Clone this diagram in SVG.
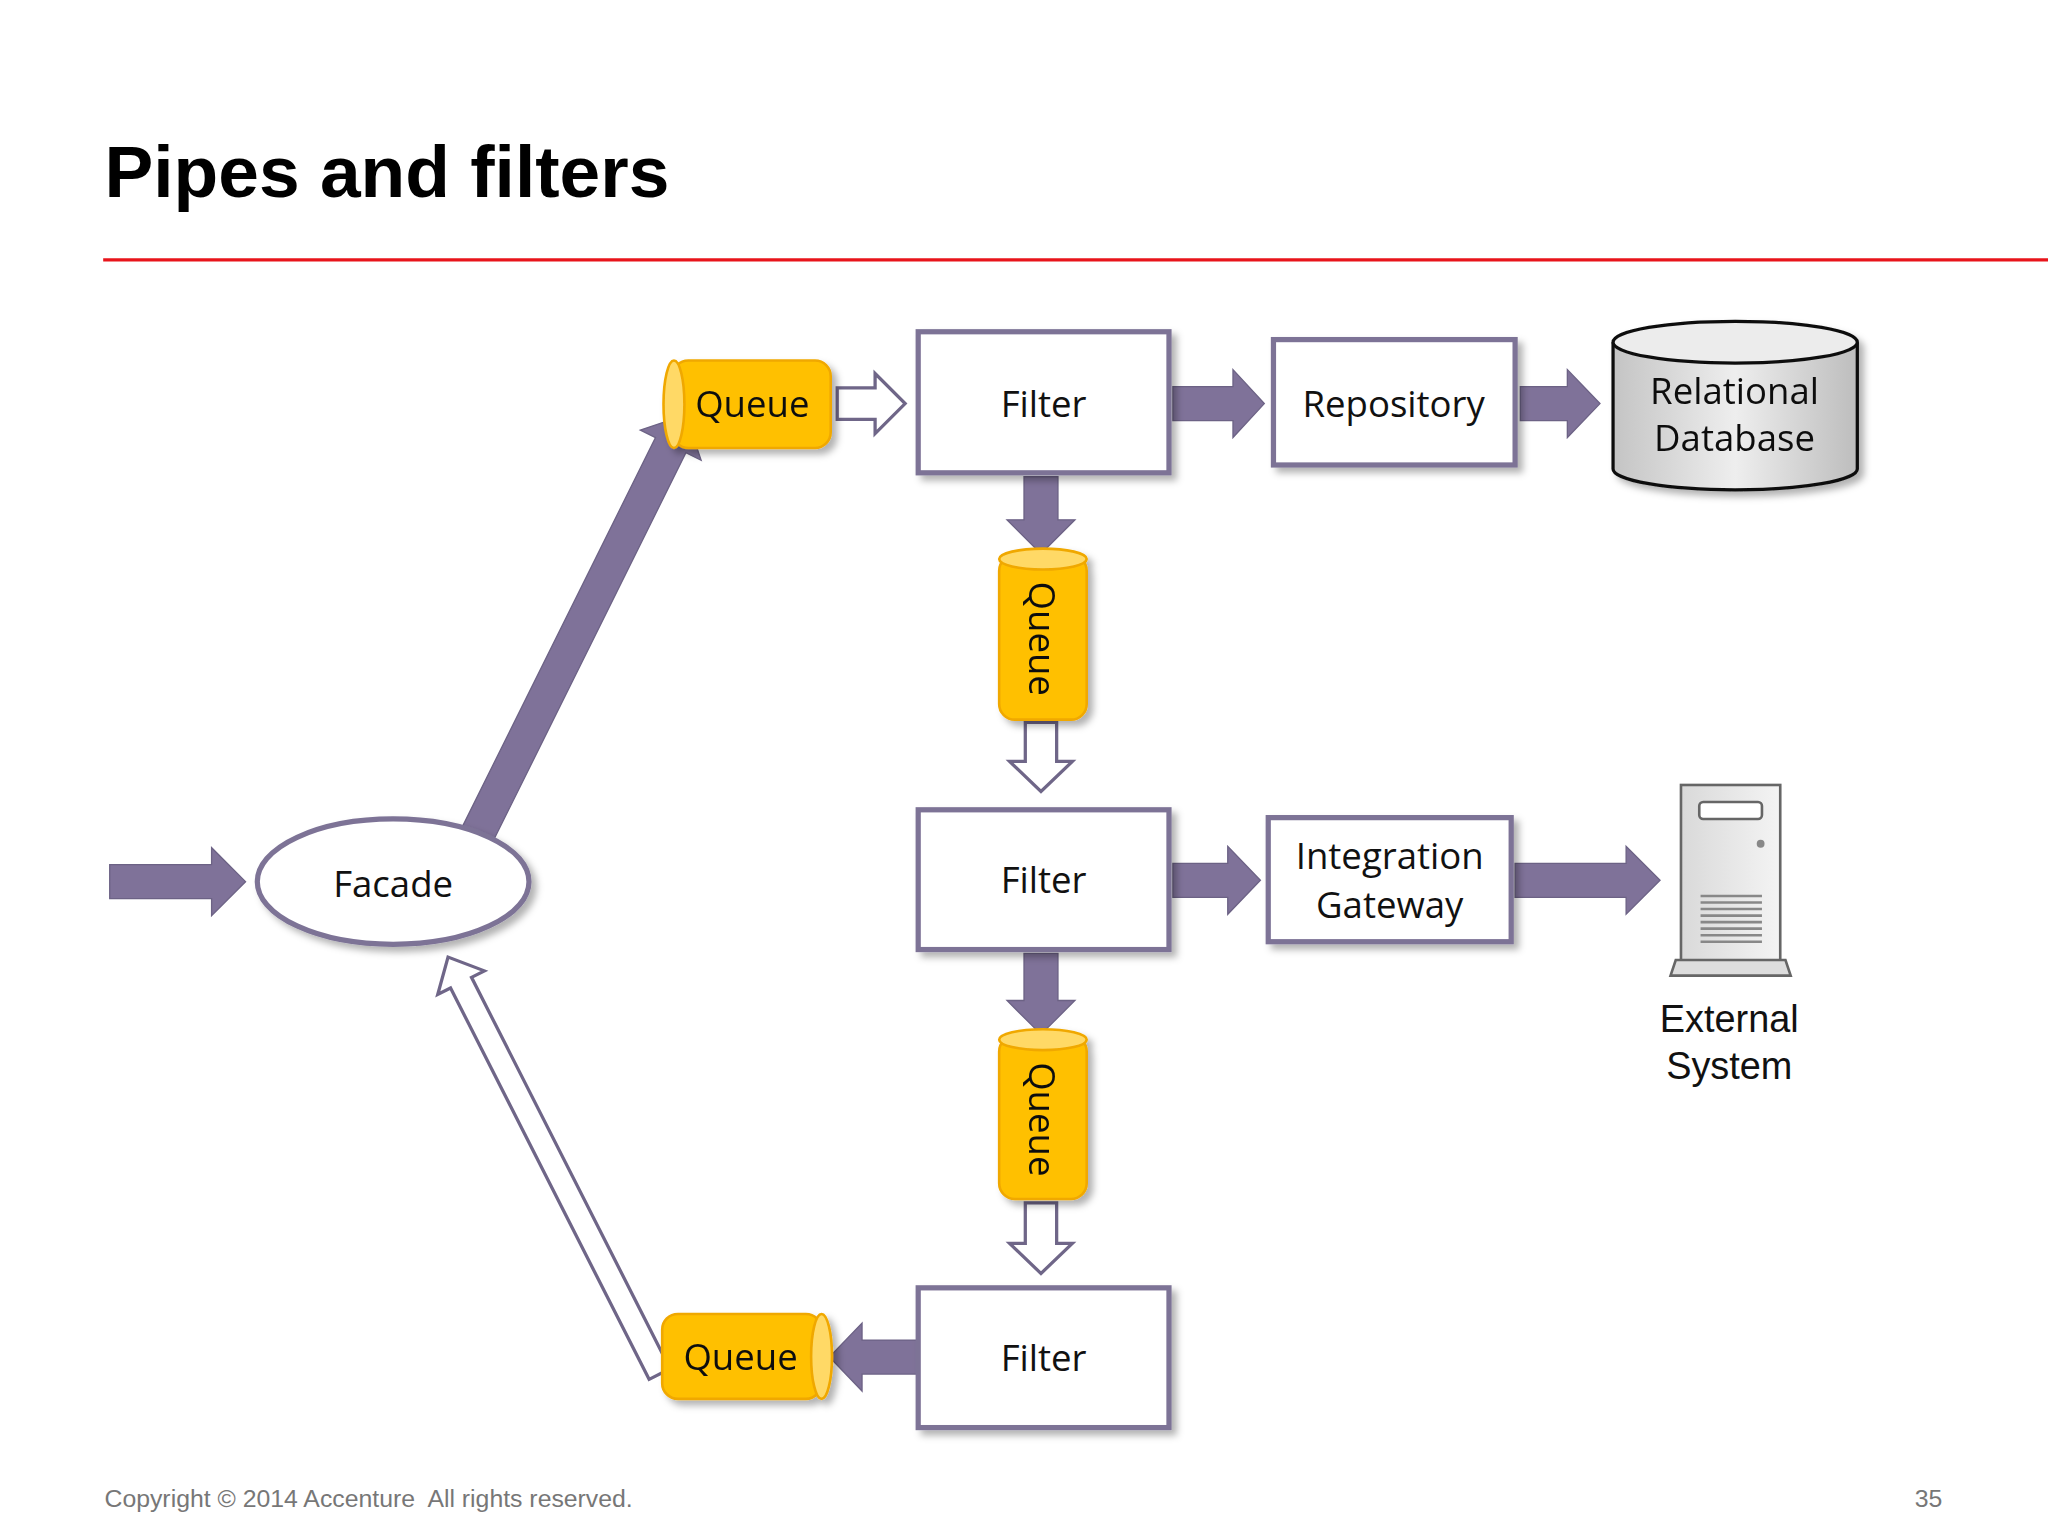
<svg xmlns="http://www.w3.org/2000/svg" width="2048" height="1536" viewBox="0 0 2048 1536">
<defs>
<style>
.box{fill:#fff;stroke:#7d7396;stroke-width:4}
.arr{fill:#7f7299;stroke:#6c6285;stroke-width:1}
.hol{fill:#fff;stroke:#6f6688;stroke-width:2.5}
.q{fill:#ffc000;stroke:#f0a800;stroke-width:2}
.qe{fill:#ffd966;stroke:#f0a800;stroke-width:2}
.t{font-family:"Open Sans","Liberation Sans",sans-serif;font-size:28px;fill:#111;text-anchor:middle}
</style>
<linearGradient id="db" x1="0" x2="1" y1="0" y2="0">
<stop offset="0" stop-color="#c4c4c4"/><stop offset="0.5" stop-color="#eeeeee"/><stop offset="1" stop-color="#bdbdbd"/>
</linearGradient>
<linearGradient id="srv" x1="0" x2="1"><stop offset="0" stop-color="#d9d9d9"/><stop offset="1" stop-color="#f4f4f4"/></linearGradient>
<filter id="sh" x="-10%" y="-10%" width="130%" height="130%"><feDropShadow dx="4" dy="4" stdDeviation="3" flood-color="#000" flood-opacity="0.3"/></filter>
</defs>
<rect width="2048" height="1536" fill="#fff"/>
<g transform="scale(1.30612)">
<text x="80" y="151" font-family="Liberation Sans,Arial,sans-serif" font-weight="bold" font-size="56" fill="#000">Pipes and filters</text>
<line x1="79" y1="199" x2="1568" y2="199" stroke="#e8141b" stroke-width="2.5"/>
<text x="80" y="1154" font-family="Liberation Sans,Arial,sans-serif" font-size="19" fill="#777">Copyright © 2014 Accenture&#160; All rights reserved.</text>
<text x="1466" y="1154" font-family="Liberation Sans,Arial,sans-serif" font-size="19" fill="#777">35</text>

<g id="connectors">
<polygon class="arr" points="84,662 162,662 162,649 188,675 162,701 162,688 84,688"/>
<polygon class="arr" transform="translate(365,640) rotate(-63.6)" points="0,-13 334,-13 334,-26 360,0 334,26 334,13 0,13"/>
<polygon class="hol" points="641,297 670,297 670,286 693,309 670,332 670,321 641,321"/>
<polygon class="arr" points="898,296 944,296 944,283 968,309 944,335 944,322 898,322"/>
<polygon class="arr" points="1164,296 1200,296 1200,283 1225,309 1200,335 1200,322 1164,322"/>
<polygon class="arr" points="784,365 810,365 810,398 823,398 797,424 771,398 784,398"/>
<polygon class="hol" points="785,553 809,553 809,583 821,583 797,606 773,583 785,583"/>
<polygon class="arr" points="898,661 940,661 940,648 965,674 940,700 940,687 898,687"/>
<polygon class="arr" points="1160,661 1245,661 1245,648 1271,674 1245,700 1245,687 1160,687"/>
<polygon class="arr" points="784,730 810,730 810,766 823,766 797,792 771,766 784,766"/>
<polygon class="hol" points="785,921 809,921 809,952 821,952 797,975 773,952 785,952"/>
<polygon class="arr" points="702,1026 660,1026 660,1013 635,1039 660,1065 660,1052 702,1052"/>
<polygon class="hol" transform="translate(505,1052) rotate(-116.9)" points="0,-9 336,-9 336,-20 358,0 336,20 336,9 0,9"/>
</g>

<g id="facade"><ellipse cx="301" cy="675" rx="104" ry="48" class="box" filter="url(#sh)"/><text class="t" x="301" y="687" font-size="31">Facade</text></g>

<g id="queue1" filter="url(#sh)"><rect class="q" x="515" y="276" width="121" height="67" rx="12"/><ellipse class="qe" cx="516" cy="309.5" rx="8" ry="33.5"/><text class="t" x="576" y="319">Queue</text></g>
<g id="filter1"><rect class="box" x="703" y="254" width="192" height="108" filter="url(#sh)"/><text class="t" x="799" y="319">Filter</text></g>
<g id="repository"><rect class="box" x="975" y="260" width="185" height="96" filter="url(#sh)"/><text class="t" x="1067" y="319">Repository</text></g>
<g id="database" filter="url(#sh)">
<path d="M1235,262 L1235,359 A93.5,16 0 0 0 1422,359 L1422,262" fill="url(#db)" stroke="#111" stroke-width="2.5"/>
<ellipse cx="1328.5" cy="262" rx="93.5" ry="16" fill="#ececec" stroke="#111" stroke-width="2.5"/>
<text class="t" x="1328" y="309" font-size="24">Relational</text><text class="t" x="1328" y="345" font-size="24">Database</text>
</g>
<g id="queue2" filter="url(#sh)"><rect class="q" x="765" y="425" width="67" height="126" rx="12"/><ellipse class="qe" cx="798.5" cy="428" rx="33.5" ry="8"/><text class="t" transform="translate(788,489) rotate(90)">Queue</text></g>
<g id="filter2"><rect class="box" x="703" y="620" width="192" height="107" filter="url(#sh)"/><text class="t" x="799" y="684">Filter</text></g>
<g id="gateway"><rect class="box" x="971" y="626" width="186" height="95" filter="url(#sh)"/><text class="t" x="1064" y="665">Integration</text><text class="t" x="1064" y="703">Gateway</text></g>
<g id="external">
<rect x="1287" y="601" width="76" height="136" fill="url(#srv)" stroke="#666" stroke-width="2"/>
<rect x="1301" y="614" width="48" height="13" rx="3" fill="#fff" stroke="#666" stroke-width="2"/>
<circle cx="1348" cy="646" r="3" fill="#888"/>
<g stroke="#888" stroke-width="2"><line x1="1302" y1="686" x2="1349" y2="686"/><line x1="1302" y1="691" x2="1349" y2="691"/><line x1="1302" y1="696" x2="1349" y2="696"/><line x1="1302" y1="701" x2="1349" y2="701"/><line x1="1302" y1="706" x2="1349" y2="706"/><line x1="1302" y1="711" x2="1349" y2="711"/><line x1="1302" y1="716" x2="1349" y2="716"/><line x1="1302" y1="721" x2="1349" y2="721"/></g>
<path d="M1283,735 L1367,735 L1371,747 L1279,747 Z" fill="#ddd" stroke="#666" stroke-width="2"/>
<text x="1324" y="790" font-family="Liberation Sans,Arial,sans-serif" font-size="29" text-anchor="middle" fill="#111">External</text>
<text x="1324" y="826" font-family="Liberation Sans,Arial,sans-serif" font-size="29" text-anchor="middle" fill="#111">System</text>
</g>
<g id="queue3" filter="url(#sh)"><rect class="q" x="765" y="793" width="67" height="125" rx="12"/><ellipse class="qe" cx="798.5" cy="796" rx="33.5" ry="8"/><text class="t" transform="translate(788,857) rotate(90)">Queue</text></g>
<g id="filter3"><rect class="box" x="703" y="986" width="192" height="107" filter="url(#sh)"/><text class="t" x="799" y="1050">Filter</text></g>
<g id="queue4" filter="url(#sh)"><rect class="q" x="507" y="1006" width="122" height="65" rx="12"/><ellipse class="qe" cx="629" cy="1038.5" rx="8" ry="32.5"/><text class="t" x="567" y="1049">Queue</text></g>
</g>
</svg>
